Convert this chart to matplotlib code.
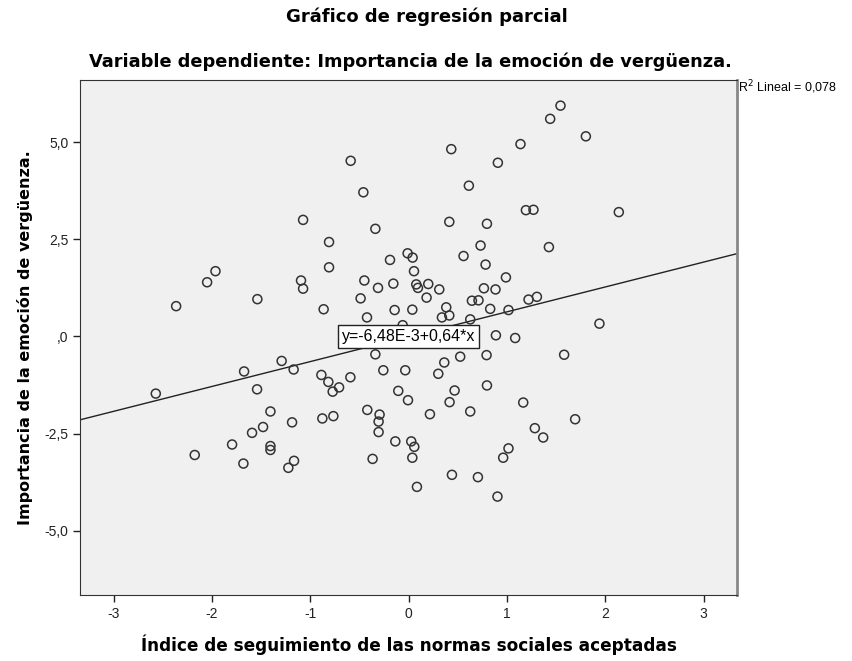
import matplotlib
matplotlib.use("Agg")
import matplotlib.pyplot as plt
import numpy as np

plt.rcParams['font.family'] = ['DejaVu Sans']

# valores (residuos parciales)
x_norma = [
    -1.964, -2.049, -2.364, -1.538, -0.589, 0.434, 0.908, -0.460, 0.613, -1.073,
    0.414, 0.797, -0.338, -0.809, 0.732, 0.559, -0.010, 0.041, -0.189, 0.783,
    -0.809, 0.055, 0.990, -1.094, -1.073, -0.450, -0.155, -0.311, 0.078, 0.095,
    0.200, 0.312, 0.766, 0.884, -0.488, 0.183, 0.644, 0.711, -0.864, -0.142,
    0.038, 0.383, 0.830, 1.016, -0.423, 0.339, 0.414, 0.627, 0.888, -0.060,
    1.545, 1.440, 1.803, 1.138, 1.193, 1.270, 2.138, 1.427, 1.220, 1.305,
    1.941, 1.084, -2.571, -1.673, -1.291, -1.169, -1.541, -1.405, -1.185, -1.480,
    -1.592, -1.795, -1.405, -1.405, -2.175, -1.680, -1.165, -1.223, -0.338, 0.525,
    0.793, 0.363, -0.887, -0.816, -0.707, -0.772, -0.592, -0.257, -0.034, 0.302,
    0.797, -0.105, -0.006, 0.468, 0.417, 0.627, 0.217, -0.420, -0.295, -0.305,
    -0.305, -0.877, -0.765, -0.135, 0.027, 0.058, 0.038, -0.366, 0.441, 0.705,
    0.085, 0.904, 1.016, 0.962, 1.582, 1.166, 1.694, 1.284, 1.369,
]
y_verguenza = [
    1.68, 1.395, 0.78, 0.96, 4.52, 4.82, 4.47, 3.71, 3.88, 3.00,
    2.95, 2.90, 2.77, 2.43, 2.34, 2.07, 2.14, 2.03, 1.97, 1.85,
    1.78, 1.68, 1.52, 1.44, 1.23, 1.44, 1.36, 1.25, 1.34, 1.25,
    1.35, 1.21, 1.24, 1.21, 0.98, 1.00, 0.92, 0.93, 0.70, 0.68,
    0.69, 0.75, 0.71, 0.68, 0.49, 0.49, 0.54, 0.44, 0.03, 0.29,
    5.94, 5.60, 5.15, 4.95, 3.25, 3.26, 3.20, 2.30, 0.95, 1.02,
    0.33, -0.04, -1.47, -0.90, -0.63, -0.85, -1.36, -1.93, -2.21, -2.33,
    -2.48, -2.78, -2.82, -2.92, -3.05, -3.27, -3.20, -3.38, -0.46, -0.52,
    -0.48, -0.67, -0.99, -1.17, -1.31, -1.42, -1.05, -0.87, -0.87, -0.96,
    -1.26, -1.40, -1.64, -1.39, -1.69, -1.93, -2.00, -1.89, -2.01, -2.19,
    -2.46, -2.11, -2.05, -2.70, -2.70, -2.84, -3.12, -3.15, -3.56, -3.62,
    -3.87, -4.12, -2.88, -3.12, -0.47, -1.70, -2.13, -2.36, -2.60,
]

intercepto = -6.48e-3
pendiente = 0.64
r2 = 0.078

x_ticks = [-3, -2, -1, 0, 1, 2, 3]
y_ticks = [-5.0, -2.5, 0.0, 2.5, 5.0]
y_tick_labels = ["-5,0", "-2,5", ",0", "2,5", "5,0"]

arial = ['Liberation Sans', 'DejaVu Sans']

fig = plt.figure(figsize=(8.53, 6.61), dpi=100)
ax = fig.add_axes([0.094, 0.100, 0.770, 0.779])
ax.set_facecolor('#f0f0f0')

ax.scatter(x_norma, y_verguenza, s=42, facecolors='none', edgecolors='#333333',
           linewidths=1.1, zorder=3)

xlim = (-3.34, 3.34)
ax.set_xlim(xlim)
ax.set_ylim(-6.65, 6.6)
xs = np.array(xlim)
ax.plot(xs, intercepto + pendiente * xs, color='#222222', linewidth=1, zorder=2)

ax.text(0, intercepto, "y=-6,48E-3+0,64*x", fontsize=11.5, family=arial,
        ha='center', va='center', zorder=5,
        bbox=dict(boxstyle='square,pad=0.25', facecolor='white',
                  edgecolor='#222222', linewidth=1))

ax.set_xticks(x_ticks)
ax.set_xticklabels([str(t) for t in x_ticks], family=arial)
ax.set_yticks(y_ticks)
ax.set_yticklabels(y_tick_labels, family=arial)
ax.tick_params(direction='out', length=5, width=1, labelsize=10, colors='#222222')

for side in ['left', 'bottom', 'top']:
    ax.spines[side].set_color('#333333')
ax.spines['right'].set_color('#888888')
ax.spines['right'].set_linewidth(2)

ax.set_xlabel("Índice de seguimiento de las normas sociales aceptadas",
              fontsize=12.2, fontweight='bold', labelpad=10)
ax.set_ylabel("Importancia de la emoción de vergüenza.",
              fontsize=11.5, fontweight='bold', labelpad=8)

fig.text(0.5, 0.974, "Gráfico de regresión parcial", ha='center', va='center',
         fontsize=13, fontweight='bold')
fig.text(0.481, 0.906, "Variable dependiente: Importancia de la emoción de vergüenza.",
         ha='center', va='center', fontsize=12.8, fontweight='bold')

fig.text(0.865, 0.868, "R$^2$ Lineal = 0,078", ha='left', va='center',
         fontsize=9, family=arial)

fig.savefig("out.png", dpi=100)
plt.close(fig)
